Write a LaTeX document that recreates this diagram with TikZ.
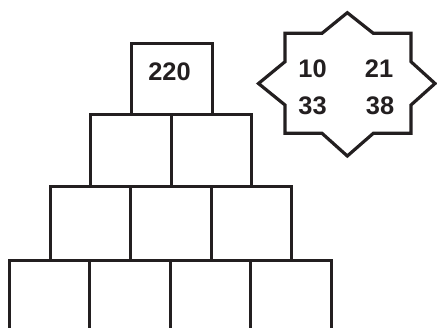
\documentclass[tikz,border=0pt]{standalone}
\usepackage{fontspec}
\setmainfont{Liberation Sans}
\definecolor{ink}{HTML}{231F20}
\begin{document}
\begin{tikzpicture}[x=1bp,y=-1bp,
  brick/.style={draw=ink, line width=3.2bp, rectangle, inner sep=0pt, minimum width=80.5bp, anchor=north west},
  num/.style={font=\fontsize{25.5}{25.5}\selectfont\bfseries, text=ink, inner sep=0pt},
  starline/.style={draw=ink, line width=3.2bp, line join=miter}]
\useasboundingbox (0,0) rectangle (437,327);
\clip (0,0) rectangle (437,327);
% row 1
\node[brick, minimum height=71bp] (r1a) at (130,42) {};
% row 2
\node[brick, minimum height=72bp] (r2a) at (89,113) {};
\node[brick, minimum height=72bp] (r2b) at (169.5,113) {};
% row 3
\node[brick, minimum height=73.5bp] (r3a) at (48.5,185) {};
\node[brick, minimum height=73.5bp] (r3b) at (129,185) {};
\node[brick, minimum height=73.5bp] (r3c) at (209.5,185) {};
% row 4
\node[brick, minimum height=75bp] (r4a) at (7.5,258.5) {};
\node[brick, minimum height=75bp] (r4b) at (88,258.5) {};
\node[brick, minimum height=75bp] (r4c) at (168.5,258.5) {};
\node[brick, minimum height=75bp] (r4d) at (249,258.5) {};
\node[num] (t220) at (169.5,72) {220};
% star
\draw[starline] (285,33.3) -- (322,33.3) -- (347.3,12.7) -- (373.3,33.3) -- (411,33.3)
  -- (411,61.7) -- (435,83.5) -- (411,105) -- (411,133.3) -- (373.3,133.3)
  -- (347.3,156) -- (322,133.3) -- (285,133.3) -- (285,105) -- (258.5,83.5)
  -- (285,61.7) -- cycle;
\node[num] (n10) at (312.5,69) {10};
\node[num] (n21) at (379,69) {21};
\node[num] (n33) at (312.5,106) {33};
\node[num] (n38) at (380,106) {38};
\end{tikzpicture}
\end{document}
